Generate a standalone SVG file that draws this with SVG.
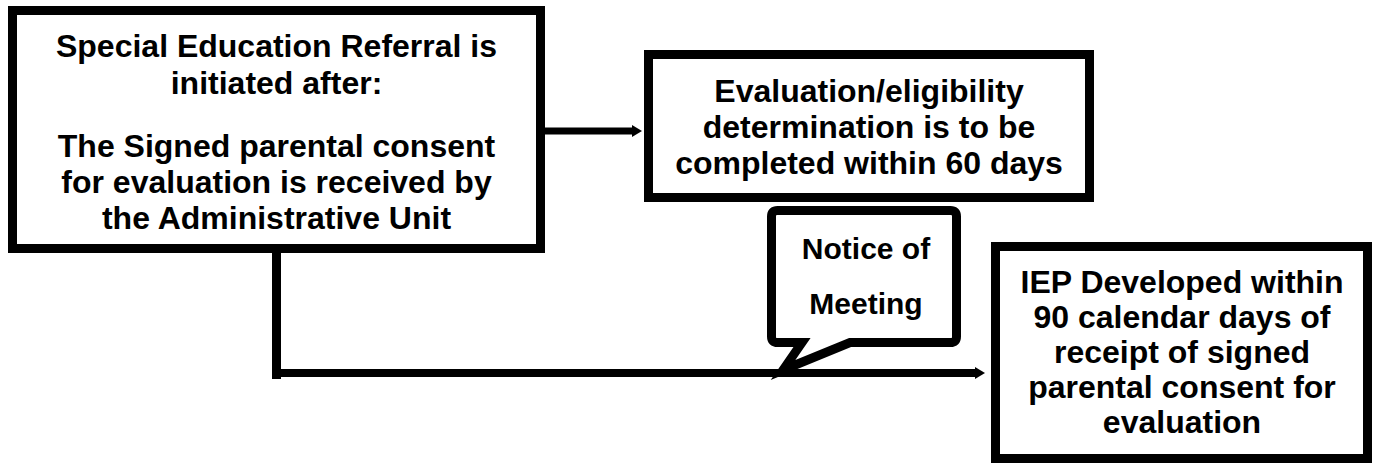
<svg xmlns="http://www.w3.org/2000/svg" width="1376" height="465" viewBox="0 0 1376 465">
<style>
.box{fill:#fff;stroke:#000;stroke-width:9}
.t{font-family:"Liberation Sans",Arial,sans-serif;font-weight:bold;font-size:32px;fill:#000;text-anchor:middle}
.c{fill:none;stroke:#000;stroke-linecap:butt}
</style>
<defs>
<marker id="ah" markerUnits="userSpaceOnUse" markerWidth="12" markerHeight="14" refX="1" refY="7" orient="auto">
<polygon points="0,1 10,7 0,13" fill="#000"/>
</marker>
<clipPath id="cc"><rect x="776" y="215" width="176" height="105"/></clipPath>
</defs>
<rect width="1376" height="465" fill="#fff"/>
<g id="connectors">
<line class="c" x1="545" y1="131" x2="633" y2="131" stroke-width="7" marker-end="url(#ah)"/>
<line class="c" x1="276.5" y1="253" x2="276.5" y2="379" stroke-width="9"/>
<line class="c" x1="272" y1="373" x2="976" y2="373" stroke-width="8" marker-end="url(#ah)"/>
</g>
<g id="node-referral">
<rect class="box" x="12.5" y="10.5" width="528" height="238"/>
<text class="t" x="276.5" y="57">Special Education Referral is</text>
<text class="t" x="276.5" y="94">initiated after:</text>
<text class="t" x="276.5" y="157">The Signed parental consent</text>
<text class="t" x="276.5" y="193">for evaluation is received by</text>
<text class="t" x="276.5" y="229">the Administrative Unit</text>
</g>
<g id="node-evaluation">
<rect class="box" x="648.5" y="54.5" width="441" height="143"/>
<text class="t" x="869" y="102">Evaluation/eligibility</text>
<text class="t" x="869" y="138">determination is to be</text>
<text class="t" x="869" y="174">completed within 60 days</text>
</g>
<g id="node-notice">
<path class="box" d="M777.5,210.5 H950.5 Q956.5,210.5 956.5,216.5 V336.5 Q956.5,342.5 950.5,342.5 H850 L783,370 L802,342.5 H777.5 Q771.5,342.5 771.5,336.5 V216.5 Q771.5,210.5 777.5,210.5 Z" stroke-linejoin="miter"/>
<g clip-path="url(#cc)">
<text class="t" x="866" y="259" style="font-size:30px">Notice of</text>
<text class="t" x="866" y="314" style="font-size:30px">Meeting</text>
</g>
</g>
<g id="node-iep">
<rect class="box" x="995.5" y="246.5" width="372" height="212"/>
<text class="t" x="1182" y="293">IEP Developed within</text>
<text class="t" x="1182" y="328">90 calendar days of</text>
<text class="t" x="1182" y="363">receipt of signed</text>
<text class="t" x="1182" y="398">parental consent for</text>
<text class="t" x="1182" y="433">evaluation</text>
</g>
</svg>
